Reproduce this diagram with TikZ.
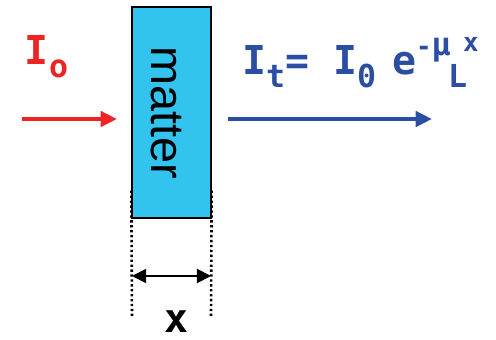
\documentclass[tikz,border=0pt]{standalone}
\usepackage{fontspec}
\setmainfont{Liberation Sans}
\newfontfamily\hand{DejaVu Sans Mono}
\usetikzlibrary{arrows.meta,positioning}
\definecolor{slab}{HTML}{33C3EF}
\definecolor{inbeam}{HTML}{EE2424}
\definecolor{outbeam}{HTML}{2C4EA2}
\newcommand{\lo}[1]{\raisebox{-0.32em}{\fontsize{27}{27}\selectfont #1}}
\newcommand{\hi}[1]{\raisebox{0.5em}{\fontsize{22}{22}\selectfont #1}}

\begin{document}
\begin{tikzpicture}[x=0.03cm,y=-0.03cm,
  beam/.style={-{Triangle[length=14pt,width=13pt]},line width=3.3pt},
  guide/.style={line width=2.2pt,dash pattern=on 2pt off 2.2pt},
  span/.style={{Triangle[length=12pt,width=12pt]}-{Triangle[length=12pt,width=12pt]},line width=1.6pt},
  lbl/.style={font=\hand\fontsize{34}{34}\selectfont\bfseries,inner sep=0pt}]
  \useasboundingbox (0,0) rectangle (496,340);

  % slab of matter
  \node[draw,line width=1.2pt,fill=slab,minimum width=2.37cm,minimum height=6.33cm,inner sep=0pt] (slab) at (171.5,112.5) {};
  \node[rotate=-90,font=\fontsize{40}{40}\selectfont,inner sep=0pt] (mat) at (166,113) {matter};

  % incoming beam
  \coordinate (inA) at (22,119);
  \coordinate (inB) at (117,119);
  \draw[beam,inbeam] (inA) -- (inB);
  \node[lbl,text=inbeam,anchor=base west] (Iin) at (24,65) {I\hspace{0.02em}\lo{o}};

  % transmitted beam
  \coordinate (outA) at (228,119);
  \coordinate (outB) at (432,119);
  \draw[beam,outbeam] (outA) -- (outB);
  \node[lbl,text=outbeam,anchor=base west] (Iout) at (242,75) {I\lo{t}=\hspace{0.6em}I\lo{0}\hspace{0.4em}e\hi{-{\fontsize{27}{27}\selectfont μ}\hspace{-0.1em}\raisebox{-28pt}{\fontsize{27}{27}\selectfont L}\hspace{-0.15em}\raisebox{3pt}{x}}};

  % thickness
  \coordinate (gl) at (132,316);
  \coordinate (gr) at (211,316);
  \draw[guide] (slab.south west) ++(0,-28) -- (gl);
  \draw[guide] (slab.south east) ++(0,-28) -- (gr);
  \coordinate (sl) at (132,276);
  \coordinate (sr) at (211,276);
  \draw[span] (sl) -- (sr);
  \node[font=\hand\fontsize{34}{34}\selectfont\bfseries,inner sep=0pt,anchor=base] (thick) at (176,332) {x};
\end{tikzpicture}
\end{document}
